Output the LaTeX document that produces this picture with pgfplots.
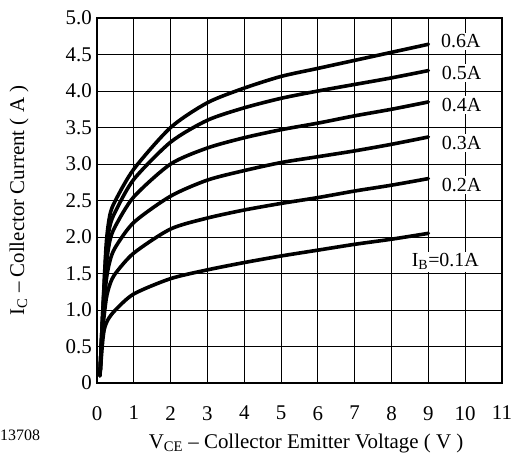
\documentclass[border=0pt]{standalone}
\usepackage{fontspec}
\setmainfont{Liberation Serif}
\usepackage{pgfplots}
\pgfplotsset{compat=1.18}
\pgfplotsset{curve/.style={black, line width=3.6bp, smooth, tension=0.45, line cap=round, mark=none}}
\begin{document}
\fontsize{21}{25}\selectfont
\begin{tikzpicture}
\begin{axis}[
  scale only axis,
  width=405bp, height=365bp,
  xmin=0, xmax=11, ymin=0, ymax=5,
  xtick={0,1,...,11},
  ytick={0,0.5,1,1.5,2,2.5,3,3.5,4,4.5,5},
  yticklabels={0,0.5,1.0,1.5,2.0,2.5,3.0,3.5,4.0,4.5,5.0},
  /pgf/number format/assume math mode=true,
  tick label style={font=\fontsize{21}{25}\selectfont},
  major tick length=0pt,
  xticklabel style={yshift=-16bp},
  yticklabel style={xshift=2bp},
  grid=major,
  grid style={black, line width=0.9bp},
  axis line style={line width=2bp},
  clip=false,
]
% I_B = 0.1 A
\addplot[curve] coordinates {(0.08,0.1)(0.15,0.55)(0.2,0.74)(0.3,0.87)(0.5,1.0)(1,1.22)(2,1.43)(3,1.55)(4,1.65)(5,1.74)(6,1.82)(7,1.90)(8,1.97)(9,2.05)};
% 0.2 A
\addplot[curve] coordinates {(0.08,0.1)(0.15,0.7)(0.25,1.15)(0.35,1.35)(0.5,1.5)(1,1.78)(2,2.11)(3,2.26)(4,2.37)(5,2.46)(6,2.54)(7,2.63)(8,2.71)(9,2.80)};
% 0.3 A
\addplot[curve] coordinates {(0.08,0.1)(0.15,0.8)(0.25,1.4)(0.35,1.67)(0.5,1.86)(1,2.2)(2,2.56)(3,2.78)(4,2.91)(5,3.02)(6,3.10)(7,3.18)(8,3.27)(9,3.37)};
% 0.4 A
\addplot[curve] coordinates {(0.08,0.1)(0.15,0.85)(0.25,1.6)(0.35,1.95)(0.5,2.15)(1,2.55)(2,3.0)(3,3.22)(4,3.36)(5,3.47)(6,3.56)(7,3.66)(8,3.75)(9,3.85)};
% 0.5 A
\addplot[curve] coordinates {(0.08,0.1)(0.15,0.9)(0.25,1.8)(0.35,2.15)(0.5,2.35)(1,2.79)(2,3.30)(3,3.60)(4,3.77)(5,3.90)(6,4.0)(7,4.09)(8,4.18)(9,4.28)};
% 0.6 A
\addplot[curve] coordinates {(0.08,0.1)(0.15,0.9)(0.25,1.9)(0.35,2.3)(0.5,2.5)(1,2.93)(2,3.50)(3,3.84)(4,4.04)(5,4.20)(6,4.31)(7,4.42)(8,4.53)(9,4.64)};

\begin{scope}[every node/.style={fill=white, inner sep=2bp, font=\fontsize{20}{24}\selectfont}]
\node at (axis cs:9.88,4.68) {0.6A};
\node at (axis cs:9.9,4.25) {0.5A};
\node at (axis cs:9.9,3.81) {0.4A};
\node at (axis cs:9.9,3.29) {0.3A};
\node at (axis cs:9.9,2.71) {0.2A};
\node at (axis cs:9.46,1.66) {I\textsubscript{B}=0.1A};
\end{scope}

\node[rotate=90] at (rel axis cs:0,0.5) [yshift=78bp] {I\textsubscript{C} – Collector Current ( A )};
\node at (axis cs:5.68,0) [yshift=-60bp] {V\textsubscript{CE} – Collector Emitter Voltage ( V )};
\node[anchor=west, inner sep=0pt, font=\fontsize{16}{19}\selectfont] at (rel axis cs:0,0) [xshift=-97bp, yshift=-52bp] {13708};
\end{axis}
\pgfresetboundingbox
\path[use as bounding box] (current axis.south west) ++(-97bp,-71bp) rectangle ++(512bp,454bp);
\end{tikzpicture}
\end{document}
